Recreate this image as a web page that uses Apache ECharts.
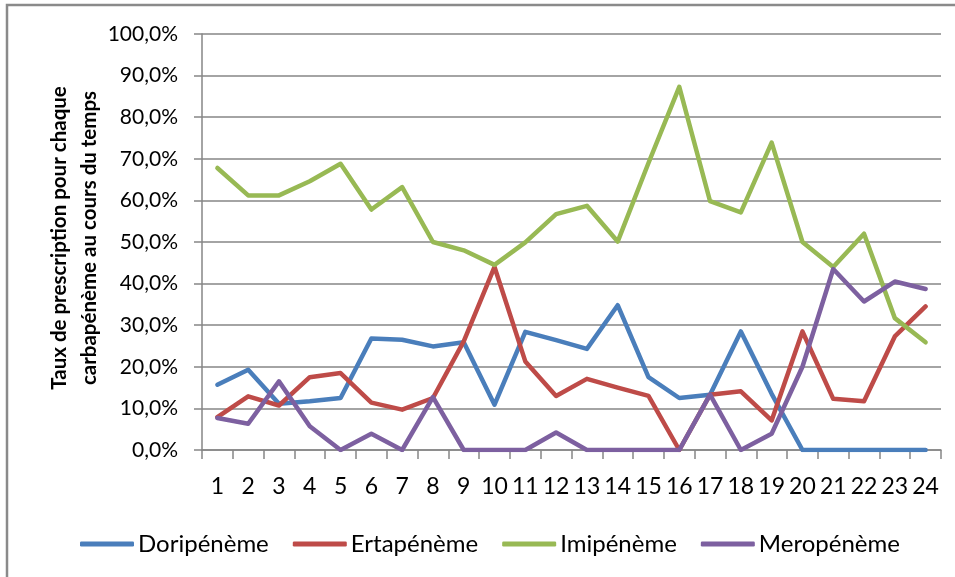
<!DOCTYPE html>
<html>
<head>
<meta charset="utf-8">
<script src="https://cdn.jsdelivr.net/npm/echarts@6/dist/echarts.min.js"></script>
<style>
  html, body { margin: 0; padding: 0; background: #ffffff; }
  #chart { width: 955px; height: 577px; }
</style>
</head>
<body>
<div id="chart"></div>
<script>
// Periods 1..24
const periods = ['1','2','3','4','5','6','7','8','9','10','11','12','13','14','15','16','17','18','19','20','21','22','23','24'];

// Prescription rate (%) of each carbapenem per period
const doripeneme = [15.7, 19.3, 11.1, 11.7, 12.5, 26.8, 26.5, 24.9, 25.9, 10.9, 28.4, 26.4, 24.3, 34.8, 17.5, 12.5, 13.3, 28.5, 13.5, 0, 0, 0, 0, 0];
const ertapeneme = [7.9, 12.9, 10.7, 17.5, 18.5, 11.4, 9.7, 12.5, 26.1, 44.0, 21.3, 13.0, 17.1, 15.0, 13.0, 0, 13.3, 14.1, 7.1, 28.5, 12.3, 11.7, 27.3, 34.5];
const imipeneme  = [67.8, 61.2, 61.2, 64.6, 68.8, 57.8, 63.2, 50.0, 48.0, 44.5, 49.9, 56.7, 58.7, 50.1, 69.0, 87.3, 59.8, 57.1, 73.9, 50.0, 44.0, 52.0, 31.7, 25.9];
const meropeneme = [7.7, 6.3, 16.5, 5.7, 0, 3.9, 0, 12.7, 0, 0, 0, 4.2, 0, 0, 0, 0, 13.3, 0, 3.9, 20.0, 43.5, 35.7, 40.5, 38.7];

const seriesNames = ['Doripénème', 'Ertapénème', 'Imipénème', 'Meropénème'];
const seriesColors = ['#4a7ebb', '#be4b48', '#98b954', '#7d60a0'];
const seriesData = [doripeneme, ertapeneme, imipeneme, meropeneme];

const yAxisTitle = 'Taux de prescription pour chaque\ncarbapénème au cours du temps';

const FONT = 'Lato, "Open Sans", sans-serif';
const AXIS_GREY = '#868686';

const chart = echarts.init(document.getElementById('chart'), null, { renderer: 'canvas' });

chart.setOption({
  animation: false,
  backgroundColor: '#ffffff',
  textStyle: { fontFamily: FONT, color: '#000' },
  grid: { left: 202, right: 14, top: 34, bottom: 127, containLabel: false },
  graphic: [
    {
      type: 'rect',
      shape: { x: 7, y: 5, width: 960, height: 600 },
      style: { fill: 'none', stroke: '#8a8a8a', lineWidth: 2.5 },
      silent: true
    },
    {
      type: 'text',
      x: 74,
      y: 238,
      rotation: Math.PI / 2,
      style: {
        text: yAxisTitle,
        fontFamily: FONT,
        fontWeight: 'bold',
        fontSize: 20.5,
        lineHeight: 30,
        fill: '#000',
        align: 'center',
        verticalAlign: 'middle'
      },
      silent: true
    }
  ],
  xAxis: {
    type: 'category',
    data: periods,
    boundaryGap: true,
    axisLine: { show: true, lineStyle: { color: AXIS_GREY, width: 1.5 } },
    axisTick: { show: true, inside: false, length: 9, alignWithLabel: false, lineStyle: { color: AXIS_GREY, width: 1.5 } },
    axisLabel: { fontFamily: FONT, fontSize: 23, color: '#000', margin: 25, interval: 0 },
    splitLine: { show: false }
  },
  yAxis: {
    type: 'value',
    min: 0,
    max: 100,
    interval: 10,
    axisLine: { show: true, lineStyle: { color: AXIS_GREY, width: 1.5 } },
    axisTick: { show: true, inside: false, length: 8, lineStyle: { color: AXIS_GREY, width: 1.5 } },
    axisLabel: {
      fontFamily: FONT,
      fontSize: 21,
      color: '#000',
      margin: 24,
      formatter: v => v.toFixed(1).replace('.', ',') + '%'
    },
    splitLine: { show: true, lineStyle: { color: AXIS_GREY, width: 1.5 } }
  },
  legend: {
    show: true,
    left: 75,
    top: 527,
    icon: 'roundRect',
    itemWidth: 54,
    itemHeight: 5,
    itemGap: 24,
    textStyle: { fontFamily: FONT, fontSize: 24, color: '#000', padding: [0, 0, 0, -1] },
    data: seriesNames
  },
  series: seriesNames.map((name, i) => ({
    name: name,
    type: 'line',
    data: seriesData[i],
    showSymbol: false,
    symbol: 'none',
    color: seriesColors[i],
    lineStyle: { color: seriesColors[i], width: 4.5, cap: 'round', join: 'round' },
    z: 2 + i
  }))
});
</script>
</body>
</html>
